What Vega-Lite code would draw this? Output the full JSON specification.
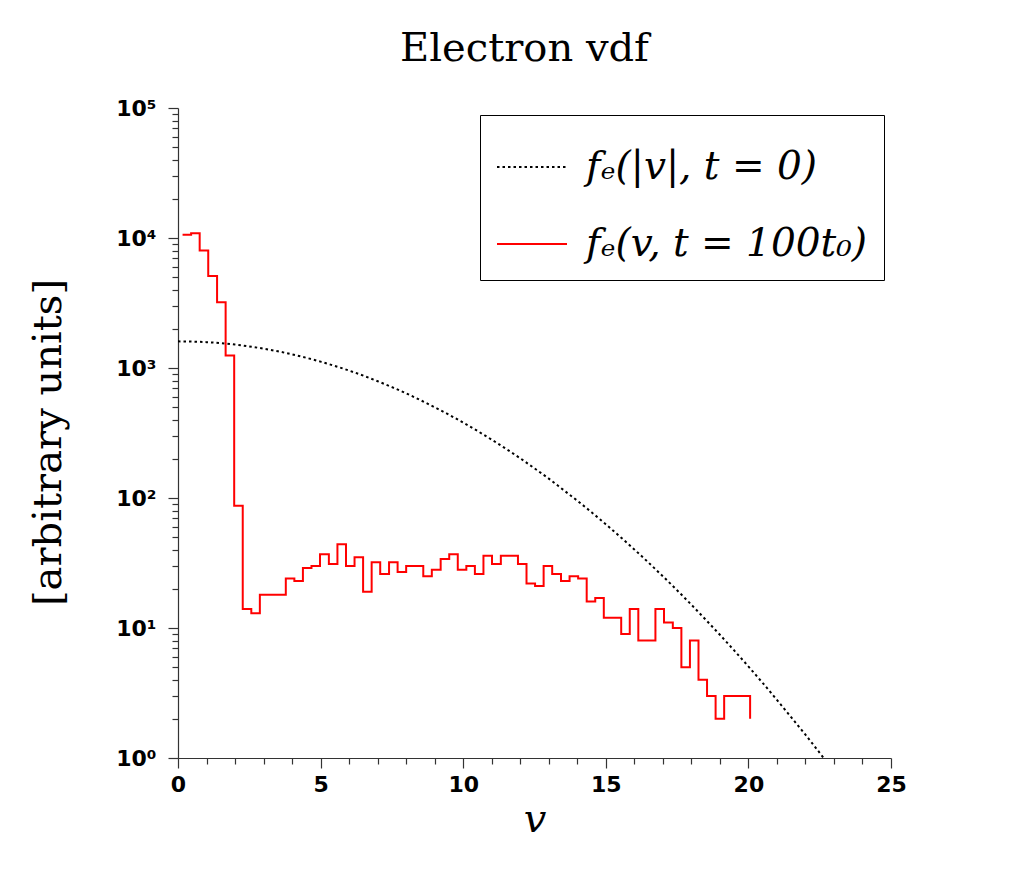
{
  "$schema": "https://vega.github.io/schema/vega-lite/v6.json",
  "width": 713,
  "height": 650,
  "padding": {"left": 28, "top": 29, "right": 5, "bottom": 5},
  "title": {
    "text": "Electron vdf",
    "font": "DejaVu Serif",
    "fontSize": 40,
    "fontWeight": "normal",
    "color": "black",
    "offset": 28,
    "dx": -10
  },
  "data": {
    "values": [
      {"v": 0, "f": 1603, "series": "fₑ(|v|, t = 0)"},
      {"v": 0.5, "f": 1597, "series": "fₑ(|v|, t = 0)"},
      {"v": 1, "f": 1580, "series": "fₑ(|v|, t = 0)"},
      {"v": 1.5, "f": 1552, "series": "fₑ(|v|, t = 0)"},
      {"v": 2, "f": 1514, "series": "fₑ(|v|, t = 0)"},
      {"v": 2.5, "f": 1465, "series": "fₑ(|v|, t = 0)"},
      {"v": 3, "f": 1408, "series": "fₑ(|v|, t = 0)"},
      {"v": 3.5, "f": 1344, "series": "fₑ(|v|, t = 0)"},
      {"v": 4, "f": 1274, "series": "fₑ(|v|, t = 0)"},
      {"v": 4.5, "f": 1198, "series": "fₑ(|v|, t = 0)"},
      {"v": 5, "f": 1119, "series": "fₑ(|v|, t = 0)"},
      {"v": 5.5, "f": 1037, "series": "fₑ(|v|, t = 0)"},
      {"v": 6, "f": 955, "series": "fₑ(|v|, t = 0)"},
      {"v": 6.5, "f": 873, "series": "fₑ(|v|, t = 0)"},
      {"v": 7, "f": 791, "series": "fₑ(|v|, t = 0)"},
      {"v": 7.5, "f": 713, "series": "fₑ(|v|, t = 0)"},
      {"v": 8, "f": 638, "series": "fₑ(|v|, t = 0)"},
      {"v": 8.5, "f": 566, "series": "fₑ(|v|, t = 0)"},
      {"v": 9, "f": 499, "series": "fₑ(|v|, t = 0)"},
      {"v": 9.5, "f": 437, "series": "fₑ(|v|, t = 0)"},
      {"v": 10, "f": 380, "series": "fₑ(|v|, t = 0)"},
      {"v": 10.5, "f": 328, "series": "fₑ(|v|, t = 0)"},
      {"v": 11, "f": 281, "series": "fₑ(|v|, t = 0)"},
      {"v": 11.5, "f": 239, "series": "fₑ(|v|, t = 0)"},
      {"v": 12, "f": 202, "series": "fₑ(|v|, t = 0)"},
      {"v": 12.5, "f": 169, "series": "fₑ(|v|, t = 0)"},
      {"v": 13, "f": 141, "series": "fₑ(|v|, t = 0)"},
      {"v": 13.5, "f": 116, "series": "fₑ(|v|, t = 0)"},
      {"v": 14, "f": 95.4, "series": "fₑ(|v|, t = 0)"},
      {"v": 14.5, "f": 77.7, "series": "fₑ(|v|, t = 0)"},
      {"v": 15, "f": 62.8, "series": "fₑ(|v|, t = 0)"},
      {"v": 15.5, "f": 50.4, "series": "fₑ(|v|, t = 0)"},
      {"v": 16, "f": 40.2, "series": "fₑ(|v|, t = 0)"},
      {"v": 16.5, "f": 31.8, "series": "fₑ(|v|, t = 0)"},
      {"v": 17, "f": 25.0, "series": "fₑ(|v|, t = 0)"},
      {"v": 17.5, "f": 19.5, "series": "fₑ(|v|, t = 0)"},
      {"v": 18, "f": 15.1, "series": "fₑ(|v|, t = 0)"},
      {"v": 18.5, "f": 11.6, "series": "fₑ(|v|, t = 0)"},
      {"v": 19, "f": 8.87, "series": "fₑ(|v|, t = 0)"},
      {"v": 19.5, "f": 6.72, "series": "fₑ(|v|, t = 0)"},
      {"v": 20, "f": 5.06, "series": "fₑ(|v|, t = 0)"},
      {"v": 20.5, "f": 3.78, "series": "fₑ(|v|, t = 0)"},
      {"v": 21, "f": 2.80, "series": "fₑ(|v|, t = 0)"},
      {"v": 21.5, "f": 2.06, "series": "fₑ(|v|, t = 0)"},
      {"v": 22, "f": 1.51, "series": "fₑ(|v|, t = 0)"},
      {"v": 22.5, "f": 1.095, "series": "fₑ(|v|, t = 0)"},
      {"v": 22.64, "f": 1.0, "series": "fₑ(|v|, t = 0)"},
      {"v": 0.16, "f": 10600, "series": "fₑ(v, t = 100t₀)"},
      {"v": 0.46, "f": 10900, "series": "fₑ(v, t = 100t₀)"},
      {"v": 0.76, "f": 8000, "series": "fₑ(v, t = 100t₀)"},
      {"v": 1.06, "f": 5100, "series": "fₑ(v, t = 100t₀)"},
      {"v": 1.37, "f": 3200, "series": "fₑ(v, t = 100t₀)"},
      {"v": 1.67, "f": 1250, "series": "fₑ(v, t = 100t₀)"},
      {"v": 1.97, "f": 87, "series": "fₑ(v, t = 100t₀)"},
      {"v": 2.27, "f": 14, "series": "fₑ(v, t = 100t₀)"},
      {"v": 2.57, "f": 13, "series": "fₑ(v, t = 100t₀)"},
      {"v": 2.87, "f": 18, "series": "fₑ(v, t = 100t₀)"},
      {"v": 3.18, "f": 18, "series": "fₑ(v, t = 100t₀)"},
      {"v": 3.48, "f": 18, "series": "fₑ(v, t = 100t₀)"},
      {"v": 3.78, "f": 24, "series": "fₑ(v, t = 100t₀)"},
      {"v": 4.08, "f": 23, "series": "fₑ(v, t = 100t₀)"},
      {"v": 4.38, "f": 29, "series": "fₑ(v, t = 100t₀)"},
      {"v": 4.68, "f": 30, "series": "fₑ(v, t = 100t₀)"},
      {"v": 4.98, "f": 37, "series": "fₑ(v, t = 100t₀)"},
      {"v": 5.29, "f": 31, "series": "fₑ(v, t = 100t₀)"},
      {"v": 5.59, "f": 44, "series": "fₑ(v, t = 100t₀)"},
      {"v": 5.89, "f": 30, "series": "fₑ(v, t = 100t₀)"},
      {"v": 6.19, "f": 35, "series": "fₑ(v, t = 100t₀)"},
      {"v": 6.49, "f": 19, "series": "fₑ(v, t = 100t₀)"},
      {"v": 6.79, "f": 32, "series": "fₑ(v, t = 100t₀)"},
      {"v": 7.09, "f": 26, "series": "fₑ(v, t = 100t₀)"},
      {"v": 7.40, "f": 32, "series": "fₑ(v, t = 100t₀)"},
      {"v": 7.70, "f": 27, "series": "fₑ(v, t = 100t₀)"},
      {"v": 8.00, "f": 30, "series": "fₑ(v, t = 100t₀)"},
      {"v": 8.30, "f": 30, "series": "fₑ(v, t = 100t₀)"},
      {"v": 8.60, "f": 25, "series": "fₑ(v, t = 100t₀)"},
      {"v": 8.90, "f": 28, "series": "fₑ(v, t = 100t₀)"},
      {"v": 9.21, "f": 34, "series": "fₑ(v, t = 100t₀)"},
      {"v": 9.51, "f": 37, "series": "fₑ(v, t = 100t₀)"},
      {"v": 9.81, "f": 28, "series": "fₑ(v, t = 100t₀)"},
      {"v": 10.11, "f": 30, "series": "fₑ(v, t = 100t₀)"},
      {"v": 10.41, "f": 26, "series": "fₑ(v, t = 100t₀)"},
      {"v": 10.71, "f": 36, "series": "fₑ(v, t = 100t₀)"},
      {"v": 11.01, "f": 31, "series": "fₑ(v, t = 100t₀)"},
      {"v": 11.32, "f": 36, "series": "fₑ(v, t = 100t₀)"},
      {"v": 11.62, "f": 36, "series": "fₑ(v, t = 100t₀)"},
      {"v": 11.92, "f": 31, "series": "fₑ(v, t = 100t₀)"},
      {"v": 12.22, "f": 22, "series": "fₑ(v, t = 100t₀)"},
      {"v": 12.52, "f": 21, "series": "fₑ(v, t = 100t₀)"},
      {"v": 12.82, "f": 30, "series": "fₑ(v, t = 100t₀)"},
      {"v": 13.12, "f": 26, "series": "fₑ(v, t = 100t₀)"},
      {"v": 13.43, "f": 23, "series": "fₑ(v, t = 100t₀)"},
      {"v": 13.73, "f": 25, "series": "fₑ(v, t = 100t₀)"},
      {"v": 14.03, "f": 24, "series": "fₑ(v, t = 100t₀)"},
      {"v": 14.33, "f": 16, "series": "fₑ(v, t = 100t₀)"},
      {"v": 14.63, "f": 17, "series": "fₑ(v, t = 100t₀)"},
      {"v": 14.93, "f": 12, "series": "fₑ(v, t = 100t₀)"},
      {"v": 15.24, "f": 12, "series": "fₑ(v, t = 100t₀)"},
      {"v": 15.54, "f": 9, "series": "fₑ(v, t = 100t₀)"},
      {"v": 15.84, "f": 14, "series": "fₑ(v, t = 100t₀)"},
      {"v": 16.14, "f": 8, "series": "fₑ(v, t = 100t₀)"},
      {"v": 16.44, "f": 8, "series": "fₑ(v, t = 100t₀)"},
      {"v": 16.74, "f": 14, "series": "fₑ(v, t = 100t₀)"},
      {"v": 17.04, "f": 11, "series": "fₑ(v, t = 100t₀)"},
      {"v": 17.35, "f": 10, "series": "fₑ(v, t = 100t₀)"},
      {"v": 17.65, "f": 5, "series": "fₑ(v, t = 100t₀)"},
      {"v": 17.95, "f": 8, "series": "fₑ(v, t = 100t₀)"},
      {"v": 18.25, "f": 4, "series": "fₑ(v, t = 100t₀)"},
      {"v": 18.55, "f": 3, "series": "fₑ(v, t = 100t₀)"},
      {"v": 18.85, "f": 2, "series": "fₑ(v, t = 100t₀)"},
      {"v": 19.15, "f": 3, "series": "fₑ(v, t = 100t₀)"},
      {"v": 19.46, "f": 3, "series": "fₑ(v, t = 100t₀)"},
      {"v": 19.76, "f": 3, "series": "fₑ(v, t = 100t₀)"},
      {"v": 20.06, "f": 2, "series": "fₑ(v, t = 100t₀)"}
    ]
  },
  "encoding": {
    "x": {
      "field": "v",
      "type": "quantitative",
      "scale": {"domain": [0, 25], "nice": false, "zero": false},
      "axis": {
        "title": "v",
        "titleFont": "DejaVu Serif",
        "titleFontStyle": "italic",
        "titleFontWeight": "normal",
        "titleFontSize": 40,
        "titlePadding": 4,
        "values": [0, 1, 2, 3, 4, 5, 6, 7, 8, 9, 10, 11, 12, 13, 14, 15, 16, 17, 18, 19, 20, 21, 22, 23, 24, 25],
        "labelExpr": "datum.value % 5 == 0 ? datum.label : ''",
        "tickSize": {"condition": {"test": "datum.value % 5 == 0", "value": 10}, "value": 6},
        "labelOverlap": false,
        "labelFlush": false,
        "labelPadding": 6,
        "grid": false
      }
    },
    "y": {
      "field": "f",
      "type": "quantitative",
      "scale": {"type": "log", "domain": [1, 100000], "nice": false},
      "axis": {
        "title": "[arbitrary units]",
        "titleFont": "DejaVu Serif",
        "titleFontWeight": "normal",
        "titleFontSize": 40,
        "titlePadding": 47,
        "titleY": 334,
        "values": [1, 2, 3, 4, 5, 6, 7, 8, 9, 10, 20, 30, 40, 50, 60, 70, 80, 90, 100, 200, 300, 400, 500, 600, 700, 800, 900, 1000, 2000, 3000, 4000, 5000, 6000, 7000, 8000, 9000, 10000, 20000, 30000, 40000, 50000, 60000, 70000, 80000, 90000, 100000],
        "labelExpr": "indexof([1, 10, 100, 1000, 10000, 100000], datum.value) >= 0 ? '10' + ['⁰', '¹', '²', '³', '⁴', '⁵'][indexof([1, 10, 100, 1000, 10000, 100000], datum.value)] : ''",
        "tickSize": {"condition": {"test": "indexof([1, 10, 100, 1000, 10000, 100000], datum.value) >= 0", "value": 10}, "value": 6},
        "labelOverlap": false,
        "labelFlush": false,
        "labelPadding": 12,
        "grid": false
      }
    },
    "color": {
      "field": "series",
      "type": "nominal",
      "scale": {"domain": ["fₑ(|v|, t = 0)", "fₑ(v, t = 100t₀)"], "range": ["black", "#ff0000"]},
      "legend": {
        "title": null,
        "orient": "top-right",
        "offset": 7,
        "symbolType": "stroke",
        "symbolSize": 4900,
        "symbolStrokeWidth": 2,
        "labelFont": "DejaVu Serif",
        "labelFontStyle": "italic",
        "labelFontSize": 39,
        "labelColor": "black",
        "labelOffset": 18,
        "labelLimit": 500,
        "rowPadding": 21,
        "padding": 16,
        "strokeColor": "black",
        "fillColor": "white"
      }
    },
    "strokeDash": {
      "field": "series",
      "type": "nominal",
      "scale": {"domain": ["fₑ(|v|, t = 0)", "fₑ(v, t = 100t₀)"], "range": [[2.5, 3], [1, 0]]},
      "legend": null
    }
  },
  "layer": [
    {
      "transform": [{"filter": "datum.series == 'fₑ(|v|, t = 0)'"}],
      "mark": {"type": "line", "interpolate": "monotone", "strokeWidth": 2, "clip": true}
    },
    {
      "transform": [{"filter": "datum.series == 'fₑ(v, t = 100t₀)'"}],
      "mark": {"type": "line", "interpolate": "step-after", "strokeWidth": 2, "clip": true}
    }
  ],
  "config": {
    "background": "white",
    "view": {"stroke": null},
    "axis": {
      "domainColor": "#333333",
      "domainWidth": 1.2,
      "tickColor": "#333333",
      "tickWidth": 1.2,
      "labelFont": "DejaVu Sans",
      "labelFontWeight": "bold",
      "labelFontSize": 22,
      "labelColor": "black",
      "titleColor": "black"
    }
  }
}
